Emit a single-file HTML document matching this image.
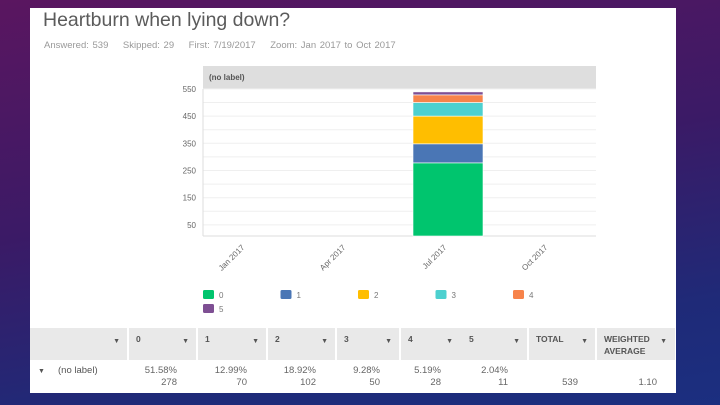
<!DOCTYPE html>
<html><head><meta charset="utf-8"><style>
body{margin:0;width:720px;height:405px;overflow:hidden;background:linear-gradient(170deg,#5a1660 0%,#3b1a66 45%,#1f2a78 80%,#1b2f80 100%);font-family:"Liberation Sans",sans-serif;position:relative}
.panel{position:absolute;left:30px;top:8px;width:646px;height:385px;background:#fff}
.t{position:absolute;white-space:nowrap}
</style></head><body>
<div class="panel">
<div class="t" style="left:13px;top:1px;font-size:19.5px;color:#5b5b5b">Heartburn when lying down?</div>
<div class="t" style="left:14px;top:32px;font-size:9.5px;color:#999;word-spacing:1px">Answered: 539&nbsp;&nbsp;&nbsp;&nbsp;Skipped: 29&nbsp;&nbsp;&nbsp;&nbsp;First: 7/19/2017&nbsp;&nbsp;&nbsp;&nbsp;Zoom: Jan 2017 to Oct 2017</div>
</div>
<svg id="chart" width="720" height="405" style="position:absolute;left:0;top:0"></svg>
<script>
const categories=["Jan 2017","Apr 2017","Jul 2017","Oct 2017"];
const seriesNames=["0","1","2","3","4","5"];
const julValues=[278,70,102,50,28,11];
const yTicks=[50,150,250,350,450,550];
const colors=["#00c56e","#4a76b5","#ffbe00","#4dd0cf","#f7834a","#7e4f93"];
const NS="http://www.w3.org/2000/svg";
const svg=document.getElementById('chart');
function mk(t,a,txt){const e=document.createElementNS(NS,t);for(const k in a)e.setAttribute(k,a[k]);if(txt!==undefined)e.textContent=txt;svg.appendChild(e);return e;}
const X0=203,X1=596,BASE=236;
function y(v){return 238.5-v*0.272;}
function xc(i){return 233+i*101;}
let e=mk('rect',{x:X0,y:66,width:X1-X0,height:23,fill:'#dedede'});

e=mk('text',{x:209,y:80,'font-size':8,'font-weight':'bold',fill:'#555'},'(no label)');

for(let v=50;v<=550;v+=50){const l=mk('line',{x1:X0,x2:X1,y1:y(v),y2:y(v),stroke:'#efefef','stroke-width':1});}
yTicks.forEach(v=>{const t=mk('text',{x:196,y:y(v)+3,'font-size':8,fill:'#666','text-anchor':'end'},String(v));});
e=mk('line',{x1:X0,x2:X1,y1:BASE,y2:BASE,stroke:'#ddd'});
e=mk('line',{x1:X0,x2:X0,y1:89,y2:BASE,stroke:'#ddd'});
categories.forEach((c,i)=>{const t=mk('text',{x:xc(i)+12,y:248,'font-size':8,fill:'#666','text-anchor':'end',transform:`rotate(-45 ${xc(i)+12} 248)`},c);});
let cum=0;
julValues.forEach((v,i)=>{const top=cum+v;const y0=cum===0?BASE:y(cum);const y1=y(top);const r=mk('rect',{x:413,y:y1,width:70,height:Math.max(0,y0-y1),fill:colors[i],stroke:'#fff','stroke-width':0.6});cum=top;});
seriesNames.forEach((s,i)=>{const col=i%5,row=Math.floor(i/5);const lx=203+col*77.5,ly=290+row*14;const r=mk('rect',{x:lx,y:ly,width:11,height:9,rx:1.5,fill:colors[i]});const t=mk('text',{x:lx+16,y:ly+8,'font-size':8,fill:'#777'},s);});
const colX=[30,128,197,267,336,400,461,528,596,675];
const heads=["","0","1","2","3","4","5","TOTAL","WEIGHTED"];
const pcts=["51.58%","12.99%","18.92%","9.28%","5.19%","2.04%"];
e=mk('rect',{x:30,y:328,width:645,height:32,fill:'#e9e9e9'});
e=mk('rect',{x:128,y:360,width:547,height:32,fill:'#fff'});
for(let i=1;i<colX.length-1;i++){if(i===6)continue;const l=mk('line',{x1:colX[i],x2:colX[i],y1:328,y2:392,stroke:'#fff','stroke-width':2});}
for(let i=0;i<heads.length;i++){
 const x0=colX[i],x1=colX[i+1];
 if(i>0){const t=mk('text',{x:x0+8,y:342,'font-size':8.5,'font-weight':'bold',fill:'#555'},heads[i]);}
 const a=mk('text',{x:x1-8,y:343,'font-size':7,fill:'#555','text-anchor':'end'},'▼');
}
e=mk('text',{x:604,y:354,'font-size':8.5,'font-weight':'bold',fill:'#555'},'AVERAGE');
e=mk('text',{x:38,y:373,'font-size':7,fill:'#555'},'▼');
e=mk('text',{x:58,y:373,'font-size':9.5,fill:'#555'},'(no label)');
pcts.forEach((p,i)=>{const x1=colX[i+2]-20;let t=mk('text',{x:x1,y:373,'font-size':9.5,fill:'#666','text-anchor':'end'},p);t=mk('text',{x:x1,y:385,'font-size':9.5,fill:'#666','text-anchor':'end'},String(julValues[i]));});
e=mk('text',{x:578,y:385,'font-size':9.5,fill:'#666','text-anchor':'end'},String(julValues.reduce((a,b)=>a+b,0)));
e=mk('text',{x:657,y:385,'font-size':9.5,fill:'#666','text-anchor':'end'},'1.10');
</script>
</body></html>
